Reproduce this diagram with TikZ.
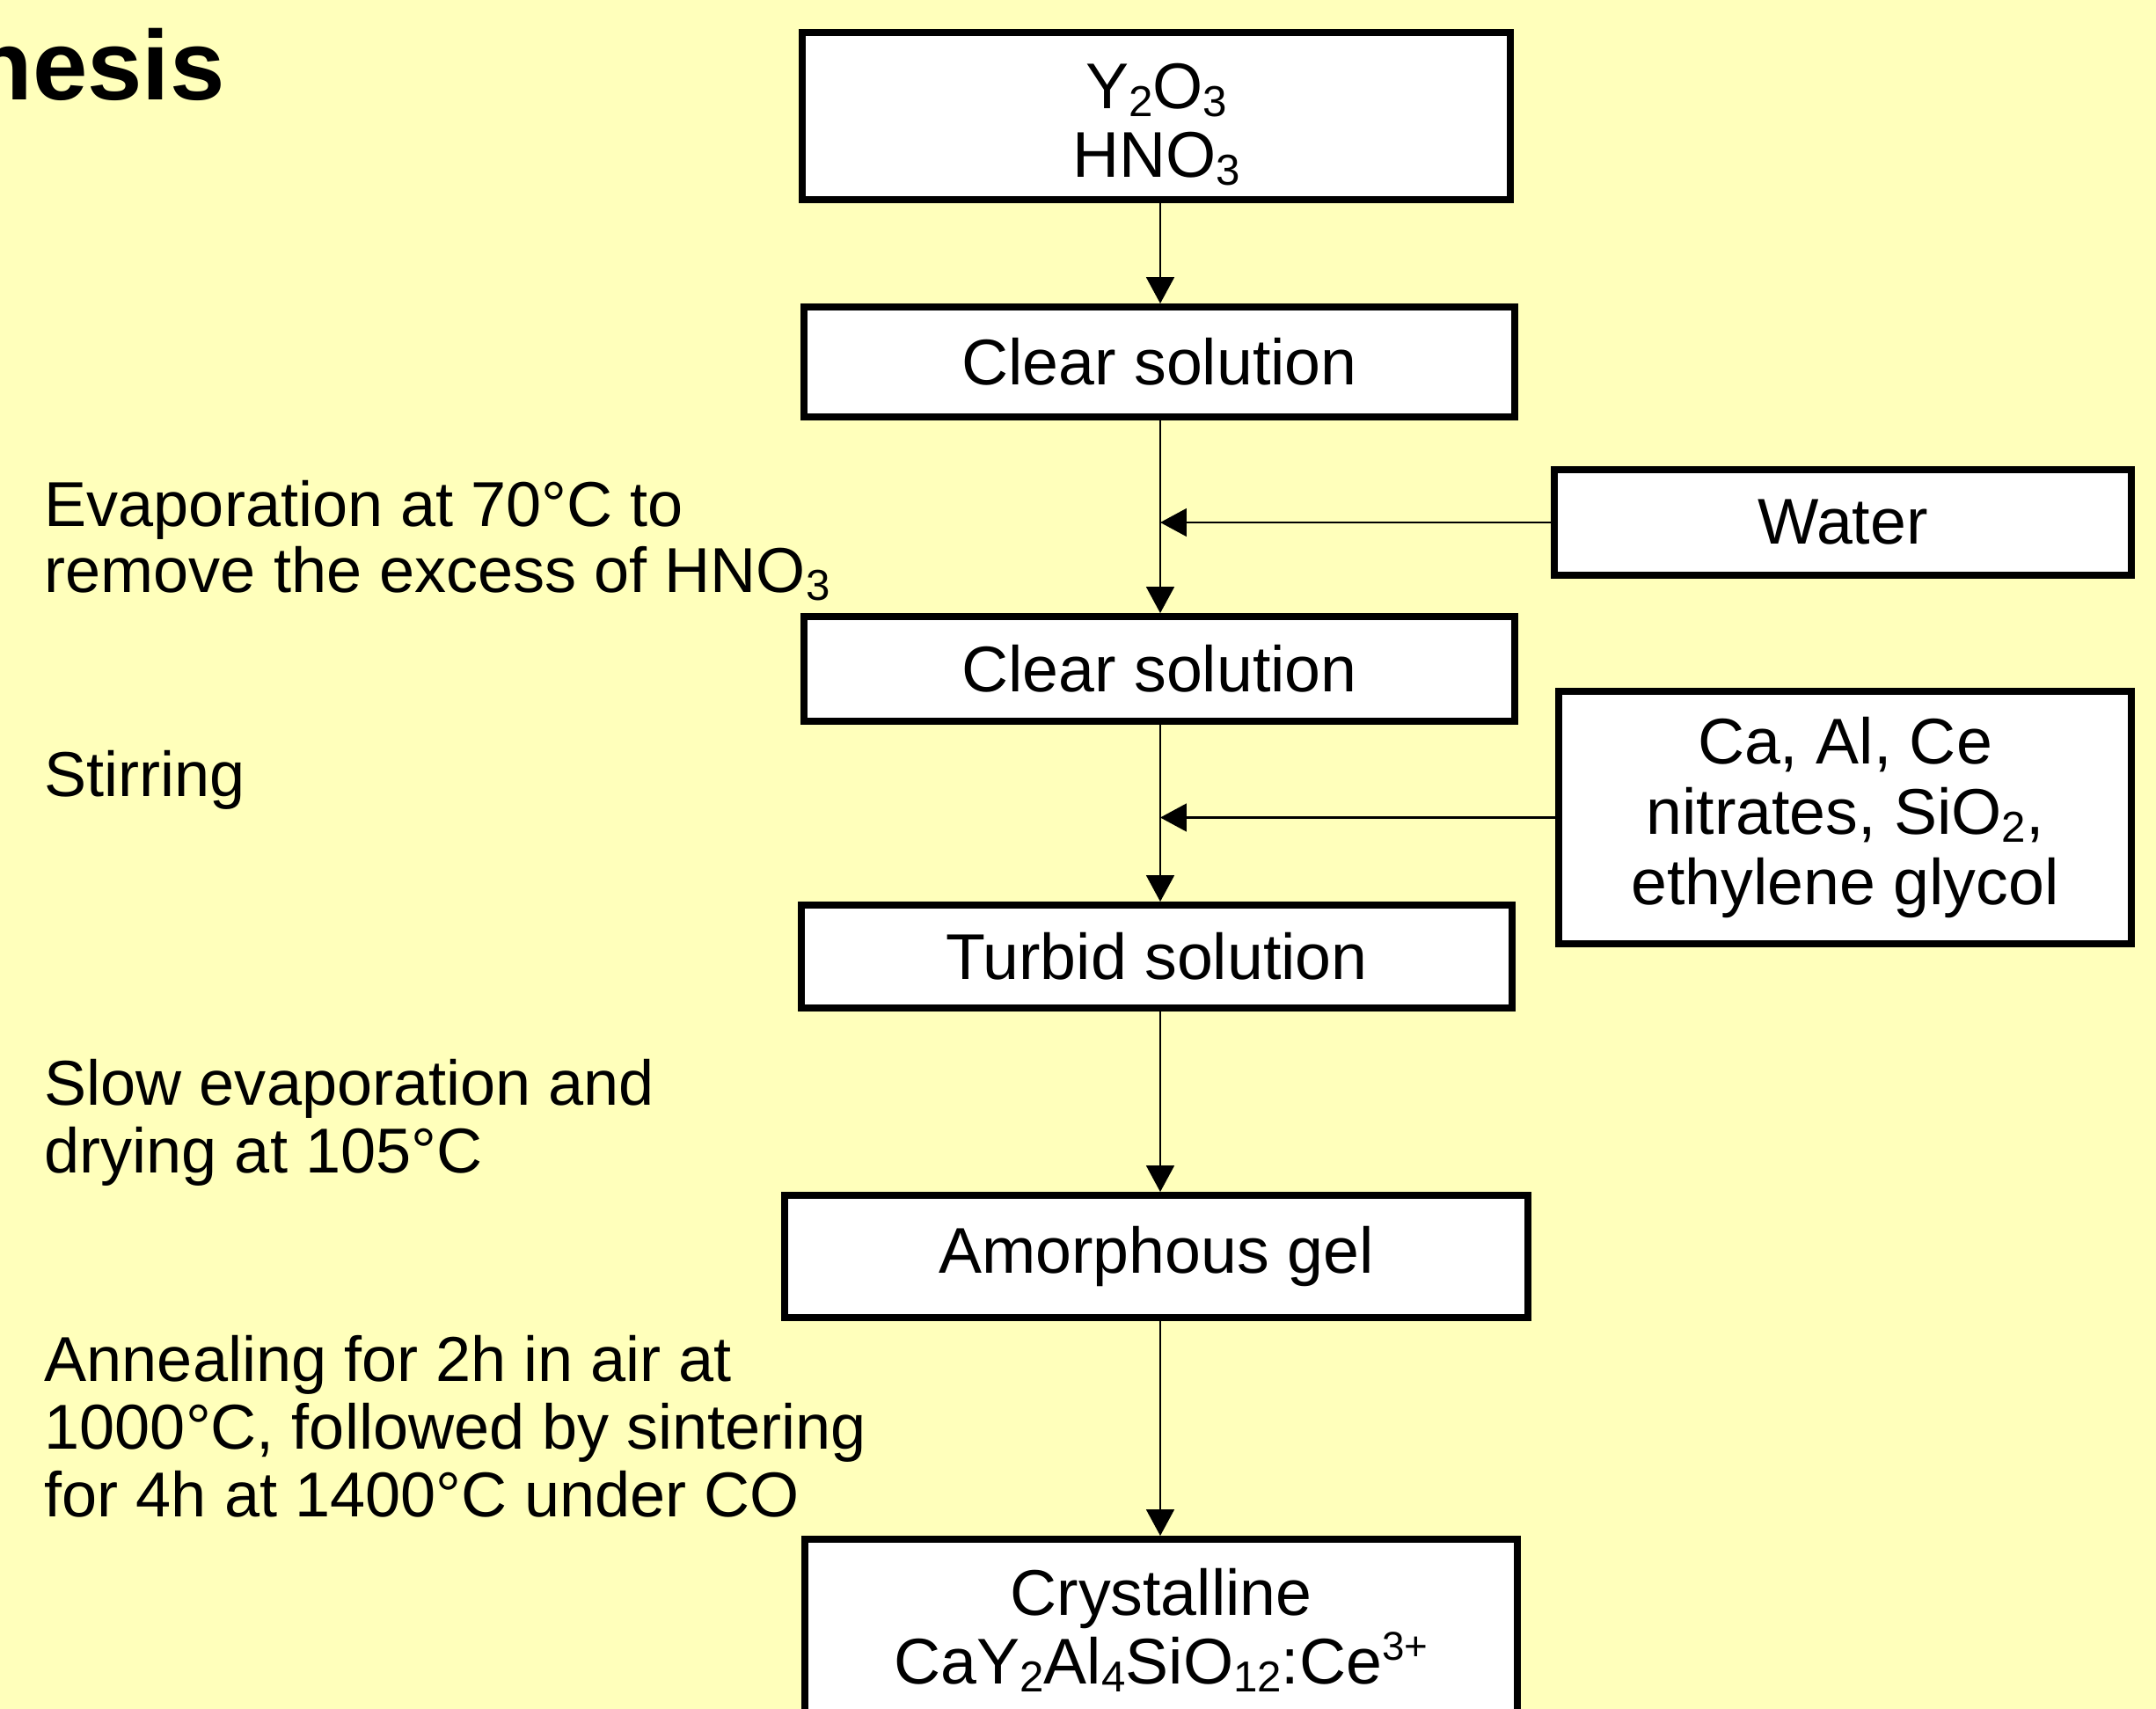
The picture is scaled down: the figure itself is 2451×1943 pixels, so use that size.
\documentclass[tikz,border=0pt]{standalone}
\usepackage{fontspec}
\setmainfont{Liberation Sans}
\usetikzlibrary{arrows.meta}
\definecolor{bgyellow}{RGB}{255,255,187}
\newcommand\chemsub[1]{\raisebox{-2.6pt}{\fontsize{14}{14}\selectfont #1}}
\newcommand\chemsup[1]{\raisebox{7.5pt}{\fontsize{13}{13}\selectfont #1}}
\begin{document}
\begin{tikzpicture}[x=0.01cm,y=-0.01cm,
  box/.style={draw=black, fill=white, line width=2.2pt, inner sep=0pt, align=center,
    font=\fontsize{20.9}{22.2}\selectfont},
  lbl/.style={inner sep=0pt, align=left, anchor=north west,
    font=\fontsize{20.5}{21.8}\selectfont},
  arr/.style={line width=0.7pt, -{Triangle[length=8.5pt,width=9pt]}}]
\useasboundingbox (0,0) rectangle (2451,1943);
\fill[bgyellow] (0,0) rectangle (2451,1943);

% title (cut at the left edge)
\node[inner sep=0pt, anchor=base west, font=\fontsize{31.9}{36}\selectfont\bfseries] (title) at (-32,114) {hesis};

% main column
\node[box, minimum width=8.05cm, minimum height=1.90cm] (b1) at (1314.5,132) {\rule{0pt}{20pt}Y\chemsub{2}O\chemsub{3}\\HNO\chemsub{3}};
\node[box, minimum width=8.08cm, minimum height=1.25cm] (c1) at (1318,411.5) {Clear solution};
\node[box, minimum width=8.08cm, minimum height=1.19cm] (c2) at (1318,760.5) {Clear solution};
\node[box, minimum width=8.08cm, minimum height=1.17cm] (tu) at (1315,1087.5) {Turbid solution};
\node[box, minimum width=8.45cm, minimum height=1.39cm] (gel) at (1314.5,1428.5) {Amorphous gel};
\node[box, minimum width=8.10cm, minimum height=2.06cm] (cr) at (1320,1853) {Crystalline\\CaY\chemsub{2}Al\chemsub{4}SiO\chemsub{12}:Ce\chemsup{3+}};

% side inputs
\node[box, minimum width=6.56cm, minimum height=1.20cm] (wa) at (2095,594) {Water};
\node[box, minimum width=6.51cm, minimum height=2.87cm, font=\fontsize{20.9}{22.8}\selectfont] (ad) at (2097.5,929.5) {Ca, Al, Ce\\nitrates, SiO\chemsub{2},\\ethylene glycol};

% left labels
\node[lbl, font=\fontsize{20.5}{21.3}\selectfont] (l1) at (50,546) {Evaporation at 70°C to\\remove the excess of HNO\chemsub{3}};
\node[lbl] (l2) at (50,853) {Stirring};
\node[lbl] (l3) at (50,1204) {Slow evaporation and\\drying at 105°C};
\node[lbl] (l4) at (50,1518) {Annealing for 2h in air at\\1000°C, followed by sintering\\for 4h at 1400°C under CO};

% connectors
\coordinate (ax) at (1319,0);
\draw[arr] (b1.south -| ax) -- (c1.north -| ax);
\draw[arr] (c1.south -| ax) -- (c2.north -| ax);
\draw[arr] (c2.south -| ax) -- (tu.north -| ax);
\draw[arr] (tu.south -| ax) -- (gel.north -| ax);
\draw[arr] (gel.south -| ax) -- (cr.north -| ax);
\draw[arr] (wa.west) -- (wa.west -| ax);
\draw[arr] (ad.west) -- (ad.west -| ax);
\end{tikzpicture}
\end{document}
